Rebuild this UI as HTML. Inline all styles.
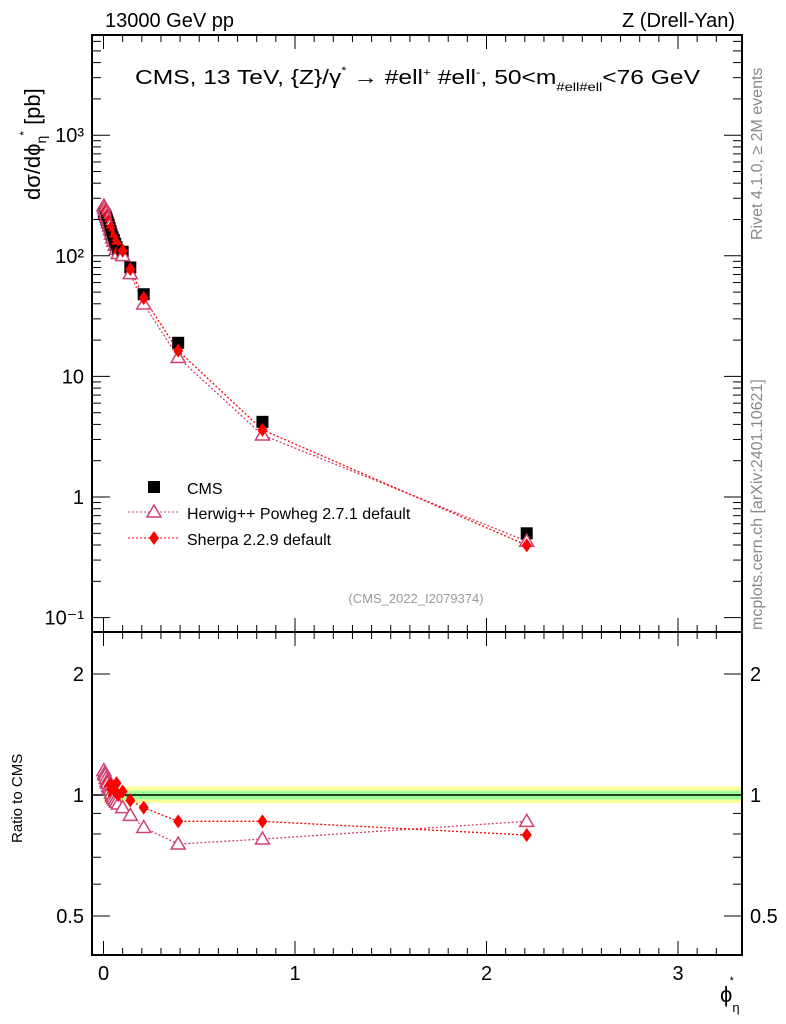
<!DOCTYPE html>
<html><head><meta charset="utf-8"><style>
html,body{margin:0;padding:0;background:#fff}
svg{display:block;font-family:"Liberation Sans",sans-serif}
</style></head><body>
<svg id="c" width="786" height="1024" viewBox="0 0 786 1024" xmlns="http://www.w3.org/2000/svg">
<text x="105" y="27" font-size="20">13000 GeV pp</text>
<text x="735" y="27" font-size="20" text-anchor="end">Z (Drell-Yan)</text>
<text x="135" y="84" font-size="20" textLength="565" lengthAdjust="spacingAndGlyphs">CMS, 13 TeV, {Z}/γ<tspan font-size="11" dy="-10">*</tspan><tspan dy="10"> →  #ell</tspan><tspan font-size="11" dy="-8">+</tspan><tspan dy="8"> #ell</tspan><tspan font-size="11" dy="-8">-</tspan><tspan dy="8">, 50&lt;m</tspan><tspan font-size="12" dy="7">#ell#ell</tspan><tspan dy="-7">&lt;76 GeV</tspan></text>
<text transform="translate(40,200) rotate(-90)" font-size="22">dσ/dϕ<tspan font-size="14" dy="6">η</tspan><tspan font-size="12" dy="-18">*</tspan><tspan dy="12"> [pb]</tspan></text>
<text transform="translate(22,843) rotate(-90)" font-size="15">Ratio to CMS</text>
<text transform="translate(762,240) rotate(-90)" font-size="16" fill="#888">Rivet 4.1.0, ≥ 2M events</text>
<text transform="translate(762,630) rotate(-90)" font-size="16" fill="#888">mcplots.cern.ch [arXiv:2401.10621]</text>
<text x="416" y="603" font-size="13" fill="#999" text-anchor="middle">(CMS_2022_I2079374)</text>
<text x="720" y="1002" font-size="22">ϕ<tspan font-size="13" dy="10">η</tspan><tspan font-size="11" dx="-10" dy="-28">*</tspan></text>
<g id="g"></g>
</svg>
<script>
const xs=[0.002,0.006,0.010,0.014,0.018,0.022,0.027,0.032,0.037,0.042,0.048,0.054,0.061,0.068,0.077,0.1,0.14,0.21,0.39,0.83,2.21];
const cmsVals=[225,220,212,205,196,188,180,170,160,150,142,135,126,118,110,108,80,48,19,4.2,0.5];
const herwigRatio=[1.15,1.13,1.12,1.1,1.08,1.07,1.05,1.04,1.03,1.01,0.99,0.98,0.97,0.96,0.95,0.93,0.89,0.83,0.755,0.777,0.86];
const sherpaRatio=[1.1,1.06,1.09,1.04,1.07,1.02,1.05,0.97,1.06,1.03,1.0,1.05,1.02,1.07,1.0,1.02,0.97,0.93,0.86,0.86,0.795];
const xTicks=[0,1,2,3];
const yTicks=[0.1,1,10,100,1000];
const yTickLabels=["10⁻¹","1","10","10²","10³"];
const rTicks=[0.5,1,2];
const rTickLabels=["0.5","1","2"];

const L=92,R=742,T=35,M=632,B=955;
const X=v=>103.5+v*191.5;
const Y=v=>497-Math.log10(v)*120.6;
const RY=v=>795-Math.log2(v)*121;
const g=document.getElementById('g');
const NS="http://www.w3.org/2000/svg";
function el(t,a,p){const e=document.createElementNS(NS,t);for(const k in a)e.setAttribute(k,a[k]);(p||g).appendChild(e);return e;}

let b1=el('rect',{x:X(0),y:RY(1.05),width:R-X(0),height:RY(0.955)-RY(1.05),fill:'#ffff99'});


let b2=el('rect',{x:X(0),y:RY(1.025),width:R-X(0),height:RY(0.975)-RY(1.025),fill:'#99ff99'});


let ul=el('line',{x1:L,x2:R,y1:RY(1),y2:RY(1),stroke:'#000','stroke-width':1.5});



let f1=el('rect',{x:L,y:T,width:R-L,height:M-T,fill:'none',stroke:'#000','stroke-width':2});


let f2=el('rect',{x:L,y:M,width:R-L,height:B-M,fill:'none',stroke:'#000','stroke-width':2});



for(let v=0;v<=3.3;v+=0.1){const x=X(v);const maj=Math.abs(v-Math.round(v))<1e-6;const len=maj?14:7;
 for(const [y0,dir] of [[T,1],[M,-1],[M,1],[B,-1]]) el('line',{x1:x,x2:x,y1:y0,y2:y0+dir*len,stroke:'#000','stroke-width':1});}
xTicks.forEach(v=>{const t=el('text',{x:X(v),y:980,'font-size':20,'text-anchor':'middle'});t.textContent=v;
 
 });
for(let d=-1;d<=3;d++)for(let m=1;m<10;m++){const v=m*Math.pow(10,d);const y=Y(v);if(y<T||y>M)continue;const len=m==1?18:9;
 el('line',{x1:L,x2:L+len,y1:y,y2:y,stroke:'#000'});el('line',{x1:R,x2:R-len,y1:y,y2:y,stroke:'#000'});}
yTicks.forEach((v,i)=>{const t=el('text',{x:84,y:Y(v)+7,'font-size':20,'text-anchor':'end'});t.textContent=yTickLabels[i];
 
 });
[0.5,0.6,0.7,0.8,0.9,1,2].forEach(v=>{const y=RY(v);const len=(v==0.5||v==1||v==2)?18:9;
 el('line',{x1:L,x2:L+len,y1:y,y2:y,stroke:'#000'});el('line',{x1:R,x2:R-len,y1:y,y2:y,stroke:'#000'});});
rTicks.forEach((v,i)=>{for(const [x,a] of [[84,'end'],[750,'start']]){const t=el('text',{x:x,y:RY(v)+7,'font-size':20,'text-anchor':a});t.textContent=rTickLabels[i];
 
 }});

function tri(x,y,c,p){return el('polygon',{points:`${x},${y-7} ${x-7},${y+5} ${x+7},${y+5}`,fill:'#fff',stroke:c,'stroke-width':1.5},p);}
function dia(x,y,c,p){return el('polygon',{points:`${x},${y-7} ${x-5},${y} ${x},${y+7} ${x+5},${y}`,fill:c},p);}
const hc='#d04070',sc='#ff0000';
const hv=xs.map((x,i)=>cmsVals[i]*herwigRatio[i]), sv=xs.map((x,i)=>cmsVals[i]*sherpaRatio[i]);
let hl=el('polyline',{points:xs.map((x,i)=>X(x)+','+Y(hv[i])).join(' '),fill:'none',stroke:hc,'stroke-dasharray':'2,2','stroke-width':1.3});


let sl=el('polyline',{points:xs.map((x,i)=>X(x)+','+Y(sv[i])).join(' '),fill:'none',stroke:sc,'stroke-dasharray':'2,2','stroke-width':1.3});


xs.forEach((x,i)=>{
 const r=el('rect',{x:X(x)-6,y:Y(cmsVals[i])-6,width:12,height:12,fill:'#000'});
 
 
 const h=tri(X(x),Y(hv[i]),hc);
 
 
 const s=dia(X(x),Y(sv[i]),sc);
 
 
});
let hr=el('polyline',{points:xs.map((x,i)=>X(x)+','+RY(herwigRatio[i])).join(' '),fill:'none',stroke:hc,'stroke-dasharray':'2,2','stroke-width':1.3});


let sr=el('polyline',{points:xs.map((x,i)=>X(x)+','+RY(sherpaRatio[i])).join(' '),fill:'none',stroke:sc,'stroke-dasharray':'2,2','stroke-width':1.3});


xs.forEach((x,i)=>{
 const h=tri(X(x),RY(herwigRatio[i]),hc);
 
 
 const s=dia(X(x),RY(sherpaRatio[i]),sc);
 
 
});
const lg=el('g',{});


el('rect',{x:148,y:481,width:12,height:12,fill:'#000'},lg);
el('line',{x1:128,x2:180,y1:512,y2:512,stroke:hc,'stroke-dasharray':'2,2'},lg);tri(154,512,hc,lg);
el('line',{x1:128,x2:180,y1:538,y2:538,stroke:sc,'stroke-dasharray':'2,2'},lg);dia(154,538,sc,lg);
[['CMS',494],['Herwig++ Powheg 2.7.1 default',519],['Sherpa 2.2.9 default',545]].forEach(([s,y])=>{const t=el('text',{x:187,y:y,'font-size':16},lg);t.textContent=s;
 
 });
</script>
</body></html>
